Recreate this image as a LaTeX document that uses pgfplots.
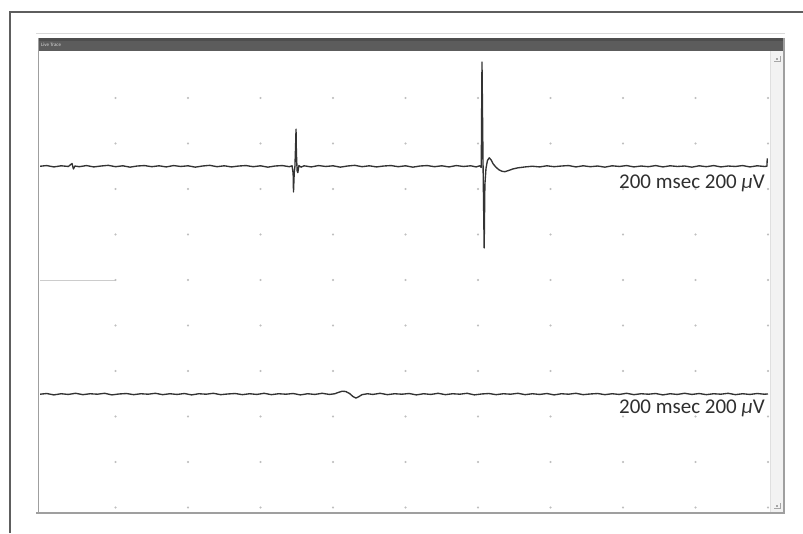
\documentclass[border=0pt]{standalone}
\usepackage{pgfplots}
\pgfplotsset{compat=1.18}
\usepackage{fontspec}
\setmainfont{Carlito}
\definecolor{trace}{HTML}{333333}
\definecolor{framec}{HTML}{5E5E5E}
\definecolor{barc}{HTML}{5C5C5C}
\definecolor{txtc}{HTML}{2F2F2F}
\begin{document}
\begin{tikzpicture}
\begin{scope}[x=1pt,y=-1pt,yshift=533pt]
  \path[use as bounding box] (0,0) rectangle (803,533);
  \fill[white] (0,0) rectangle (803,533);
  % outer frame
  \draw[framec, line width=1.7pt] (10,533) -- (10,12) -- (803,12);
  % faint line above window
  \draw[gray!30, line width=1.2pt] (36,33.5) -- (785,33.5);
  % scrollbar strip
  \fill[gray!10] (770,51) rectangle (783,512);
  \draw[gray!25, line width=0.6pt] (770,51) -- (770,512);
  % title bar
  \fill[barc] (38,38) rectangle (785,51.5);
  \fill[black, opacity=0.15] (38,38) rectangle (785,41);
  \node[anchor=west, text=gray!30, font=\fontsize{5}{6}\selectfont, inner sep=0pt] at (41,44.5) {Live Trace};
  % window borders
  \draw[gray!75, line width=1.4pt] (38.5,38) -- (38.5,513);
  \draw[gray!75, line width=2.2pt] (36,513) -- (785,513);
  \draw[gray!75, line width=1.6pt] (784,38) -- (784,514);
  % left marker line
  \draw[gray!40, line width=0.9pt] (40,280) -- (115,280);
  % scrollbar icons
  \draw[gray!70, line width=0.8pt] (774,61) -- (780,61) -- (780,56);
  \fill[gray!70] (776,58) rectangle (778,60);
  \draw[gray!70, line width=0.8pt] (774,508) -- (780,508) -- (780,503);
  \fill[gray!70] (776,505) rectangle (778,507);
\end{scope}
\begin{axis}[
  at={(0pt,0pt)}, anchor=south west,
  scale only axis, width=803pt, height=533pt,
  xmin=-118.62, xmax=2096.55, ymin=-112.09, ymax=2230.77,
  hide axis, clip=false,
]
% grid dots
\addplot[only marks, mark=*, mark size=0.75pt, draw=gray!50, fill=gray!50] coordinates {
(200,0)(400,0)(600,0)(800,0)(1000,0)(1200,0)(1400,0)(1600,0)(1800,0)(2000,0)
(200,200)(400,200)(600,200)(800,200)(1000,200)(1200,200)(1400,200)(1600,200)(1800,200)(2000,200)
(200,400)(400,400)(600,400)(800,400)(1000,400)(1200,400)(1400,400)(1600,400)(1800,400)(2000,400)
(200,600)(400,600)(600,600)(800,600)(1000,600)(1200,600)(1400,600)(1600,600)(1800,600)(2000,600)
(200,800)(400,800)(600,800)(800,800)(1000,800)(1200,800)(1400,800)(1600,800)(1800,800)(2000,800)
(200,1000)(400,1000)(600,1000)(800,1000)(1000,1000)(1200,1000)(1400,1000)(1600,1000)(1800,1000)(2000,1000)
(200,1200)(400,1200)(600,1200)(800,1200)(1000,1200)(1200,1200)(1400,1200)(1600,1200)(1800,1200)(2000,1200)
(200,1400)(400,1400)(600,1400)(800,1400)(1000,1400)(1200,1400)(1400,1400)(1600,1400)(1800,1400)(2000,1400)
(200,1600)(400,1600)(600,1600)(800,1600)(1000,1600)(1200,1600)(1400,1600)(1600,1600)(1800,1600)(2000,1600)
(200,1800)(400,1800)(600,1800)(800,1800)(1000,1800)(1200,1800)(1400,1800)(1600,1800)(1800,1800)(2000,1800)
};
% trace 1
\addplot[trace, line width=1.35pt, line join=round] coordinates {
(-8,1500)(10,1503)(30,1497)(50,1502)(70,1499)(80,1512)(84,1488)(88,1501)(100,1498)
(120,1503)(140,1497)(160,1501)(180,1504)(200,1498)(220,1502)(240,1496)(260,1501)
(280,1503)(300,1498)(320,1502)(340,1497)(360,1503)(380,1499)(400,1502)(420,1496)
(440,1501)(460,1504)(480,1498)(500,1502)(520,1497)(540,1501)(560,1503)(580,1498)
(600,1502)(620,1496)(640,1501)(660,1503)(680,1498)(687,1502)(690,1470)(691,1387)
(693,1470)(695,1500)(697,1600)(698,1663)(699,1560)(701,1480)(703,1472)(706,1503)
(712,1496)(720,1502)(740,1497)(760,1503)(780,1499)(800,1502)(820,1496)(840,1501)
(860,1504)(880,1498)(900,1502)(920,1497)(940,1501)(960,1503)(980,1498)(1000,1502)
(1020,1496)(1040,1501)(1060,1503)(1080,1498)(1100,1502)(1120,1497)(1140,1503)
(1160,1499)(1180,1502)(1195,1497)(1205,1502)(1209,1495)(1211,1958)(1214,1500)
(1217,1141)(1219,1420)(1222,1490)(1226,1525)(1231,1537)(1236,1528)(1242,1510)
(1250,1495)(1258,1484)(1266,1478)(1274,1476)(1284,1481)(1296,1488)(1310,1493)
(1330,1497)(1350,1500)(1370,1497)(1390,1502)(1410,1498)(1430,1501)(1450,1503)
(1470,1497)(1490,1502)(1510,1498)(1530,1501)(1550,1496)(1570,1502)(1590,1499)
(1610,1503)(1630,1497)(1650,1501)(1670,1498)(1690,1503)(1710,1497)(1730,1502)
(1750,1499)(1770,1501)(1790,1496)(1810,1502)(1830,1498)(1850,1503)(1870,1497)
(1890,1501)(1910,1499)(1930,1503)(1950,1497)(1970,1502)(1990,1499)(1997,1500)(1998,1535)
};
% trace 2
\addplot[trace, line width=1.35pt, line join=round] coordinates {
(-8,498)(10,501)(30,495)(50,500)(70,497)(90,502)(110,496)(130,500)(150,498)(170,502)
(190,495)(210,499)(230,501)(250,496)(270,500)(290,498)(310,502)(330,496)(350,500)
(370,497)(390,501)(410,495)(430,500)(450,498)(470,502)(490,496)(510,499)(530,501)
(550,496)(570,500)(590,497)(610,502)(630,496)(650,500)(670,498)(690,501)(710,495)
(730,500)(750,497)(770,502)(790,497)(805,500)(815,506)(825,511)(835,510)(845,502)
(855,488)(863,481)(870,486)(880,496)(895,500)(910,497)(930,502)(950,496)(970,500)
(990,498)(1010,501)(1030,495)(1050,500)(1070,497)(1090,502)(1110,496)(1130,500)
(1150,498)(1170,502)(1190,495)(1210,499)(1230,501)(1250,496)(1270,500)(1290,498)
(1310,502)(1330,496)(1350,500)(1370,497)(1390,501)(1410,495)(1430,500)(1450,498)
(1470,502)(1490,496)(1510,499)(1530,501)(1550,496)(1570,500)(1590,497)(1610,502)
(1630,496)(1650,500)(1670,498)(1690,501)(1710,495)(1730,500)(1750,497)(1770,502)
(1790,497)(1810,501)(1830,496)(1850,500)(1870,498)(1890,502)(1910,496)(1930,500)
(1950,497)(1970,501)(1990,498)(2000,499)
};
\node[anchor=base east, inner sep=0pt, text=txtc, font=\fontsize{21}{25}\selectfont] at (axis cs:1991.7,1404) {200 msec 200 {\itshape µ}V};
\node[anchor=base east, inner sep=0pt, text=txtc, font=\fontsize{21}{25}\selectfont] at (axis cs:1991.7,411) {200 msec 200 {\itshape µ}V};
\end{axis}
\end{tikzpicture}
\end{document}
